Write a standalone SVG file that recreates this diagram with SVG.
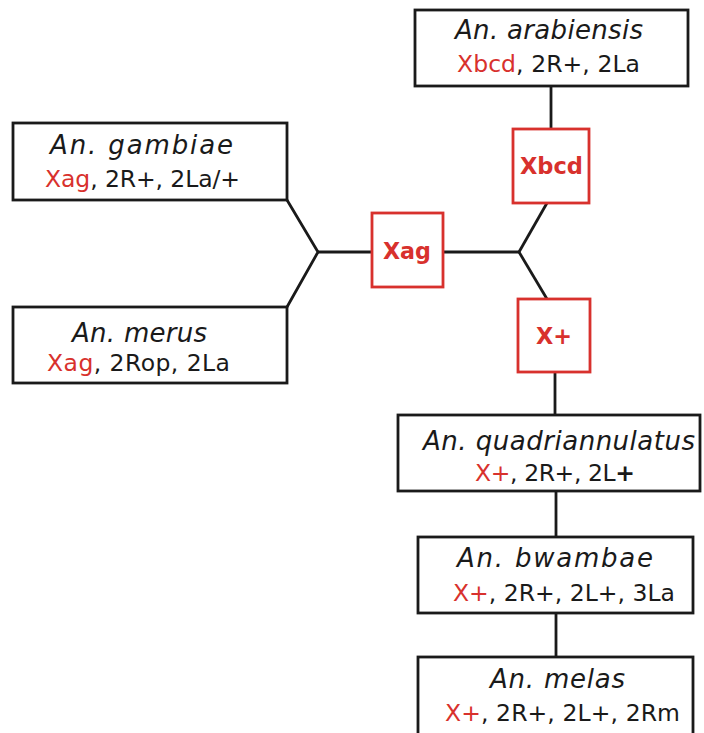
<svg xmlns="http://www.w3.org/2000/svg" width="704" height="733" viewBox="0 0 704 733">
<style>
.box{fill:#fff;stroke:#1a1a1a;stroke-width:2.8}
.rbox{fill:#fff;stroke:#d8312d;stroke-width:2.8}
.sp{font-family:"DejaVu Sans",sans-serif;font-style:italic;font-size:26px;fill:#1a1a1a}
.kt{font-family:"DejaVu Sans",sans-serif;font-size:23.5px;fill:#1a1a1a}
.r{fill:#d8312d}
.rl{font-family:"DejaVu Sans",sans-serif;font-weight:bold;font-size:22.5px;fill:#d8312d}
.ln{fill:none;stroke:#1a1a1a;stroke-width:2.8}
</style>
<rect width="704" height="733" fill="#fff"/>
<g id="connectors">
<polyline class="ln" points="287,200 318,252 287,307"/>
<line class="ln" x1="318" y1="252" x2="372" y2="252"/>
<line class="ln" x1="443" y1="252" x2="519" y2="252"/>
<line class="ln" x1="519" y1="252" x2="547" y2="203"/>
<line class="ln" x1="519" y1="252" x2="547" y2="299"/>
<line class="ln" x1="551" y1="86" x2="551" y2="129"/>
<line class="ln" x1="555" y1="372" x2="555" y2="415"/>
<line class="ln" x1="556" y1="491" x2="556" y2="537"/>
<line class="ln" x1="556" y1="613" x2="556" y2="657"/>
</g>
<g id="arabiensis">
<rect class="box" x="415" y="10" width="273" height="76"/>
<text class="sp" x="455" y="39" textLength="188" lengthAdjust="spacing">An. arabiensis</text>
<text class="kt" x="457" y="72" textLength="183" lengthAdjust="spacing"><tspan class="r">Xbcd</tspan>, 2R+, 2La</text>
</g>
<g id="gambiae">
<rect class="box" x="13" y="123" width="274" height="77"/>
<text class="sp" x="50" y="154" textLength="183" lengthAdjust="spacing">An. gambiae</text>
<text class="kt" x="45" y="187" textLength="195" lengthAdjust="spacing"><tspan class="r">Xag</tspan>, 2R+, 2La/+</text>
</g>
<g id="merus">
<rect class="box" x="13" y="307" width="274" height="76"/>
<text class="sp" x="72" y="342" textLength="135" lengthAdjust="spacing">An. merus</text>
<text class="kt" x="47" y="371" textLength="183" lengthAdjust="spacing"><tspan class="r">Xag</tspan>, 2Rop, 2La</text>
</g>
<g id="Xag">
<rect class="rbox" x="372" y="213" width="71" height="74"/>
<text class="rl" x="383" y="259" textLength="48" lengthAdjust="spacingAndGlyphs">Xag</text>
</g>
<g id="Xbcd">
<rect class="rbox" x="513" y="129" width="76" height="74"/>
<text class="rl" x="520" y="174" textLength="63" lengthAdjust="spacingAndGlyphs">Xbcd</text>
</g>
<g id="Xplus">
<rect class="rbox" x="518" y="299" width="72" height="73"/>
<text class="rl" x="536" y="344" textLength="36" lengthAdjust="spacingAndGlyphs">X+</text>
</g>
<g id="quadriannulatus">
<rect class="box" x="398" y="415" width="302" height="76"/>
<text class="sp" x="423" y="450" textLength="272" lengthAdjust="spacing">An. quadriannulatus</text>
<text class="kt" x="475" y="481" textLength="160" lengthAdjust="spacing"><tspan class="r">X+</tspan>, 2R+, 2L<tspan font-weight="bold">+</tspan></text>
</g>
<g id="bwambae">
<rect class="box" x="418" y="537" width="275" height="76"/>
<text class="sp" x="457" y="567" textLength="196" lengthAdjust="spacing">An. bwambae</text>
<text class="kt" x="453" y="601" textLength="222" lengthAdjust="spacing"><tspan class="r">X+</tspan>, 2R+, 2L+, 3La</text>
</g>
<g id="melas">
<rect class="box" x="418" y="657" width="275" height="80"/>
<text class="sp" x="490" y="688" textLength="135" lengthAdjust="spacing">An. melas</text>
<text class="kt" x="445" y="721" textLength="235" lengthAdjust="spacing"><tspan class="r">X+</tspan>, 2R+, 2L+, 2Rm</text>
</g>
</svg>
